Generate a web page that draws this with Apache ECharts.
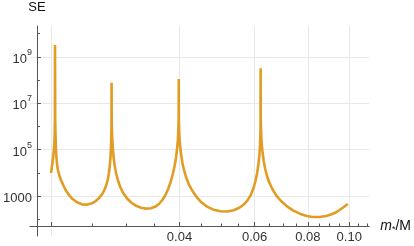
<!DOCTYPE html>
<html>
<head>
<meta charset="utf-8">
<script src="https://cdn.jsdelivr.net/npm/echarts@6/dist/echarts.min.js"></script>
<style>
html,body{margin:0;padding:0;background:#fff;}
#chart{width:414px;height:246px;}
</style>
</head>
<body>
<div id="chart"></div>
<script>
// m*/M values
const massRatio = [
  // rise to first peak
  0.020000, 0.020075, 0.020161, 0.020237, 0.020302, 0.020357, 0.020400, 0.020422, 0.020433,
  // first valley
  0.020455, 0.020488, 0.020532, 0.020587, 0.020653, 0.020753, 0.020898, 0.021100, 0.021351, 0.021638,
  0.021989, 0.022465, 0.023013, 0.023701, 0.024344, 0.024872, 0.025410, 0.025891, 0.026310, 0.026665,
  0.026952, 0.027169, 0.027345, 0.027477, 0.027580, 0.027654, 0.027699, 0.027714, 0.027728,
  // second valley
  0.027743, 0.027803, 0.027892, 0.028012, 0.028177, 0.028405, 0.028695, 0.029051, 0.029522, 0.030161,
  0.030814, 0.031650, 0.032509, 0.033392, 0.034298, 0.035041, 0.035800, 0.036477, 0.037068, 0.037628,
  0.038135, 0.038587, 0.038961, 0.039255, 0.039487, 0.039656, 0.039762, 0.039826, 0.039848,
  // third valley
  0.039869, 0.039933, 0.040040, 0.040191, 0.040385, 0.040645, 0.040995, 0.041436, 0.042040, 0.042836,
  0.043880, 0.045071, 0.046543, 0.048064, 0.049899, 0.051808, 0.053584, 0.055247, 0.056594, 0.057758,
  0.058756, 0.059612, 0.060287, 0.060838, 0.061263, 0.061591, 0.061790, 0.061923, 0.061956, 0.061988,
  // last valley
  0.062023, 0.062155, 0.062356, 0.062657, 0.063027, 0.063500, 0.064117, 0.064877, 0.065928, 0.067355,
  0.069183, 0.071442, 0.074172, 0.076594, 0.079520, 0.082248, 0.085256, 0.088369, 0.090914, 0.092883,
  0.094894, 0.096949, 0.099208
];
// SE values
const seValues = [
  9.80e3, 1.61e4, 2.92e4, 5.30e4, 9.61e4, 1.93e5, 4.70e5, 1.89e6, 3.23e9,
  1.89e6, 4.26e5, 1.17e5, 4.80e4, 2.40e4, 1.32e4, 8.04e3, 4.89e3, 2.98e3, 1.81e3,
  1.16e3, 742, 535, 430, 426, 475, 591, 796, 1.16e3, 1.81e3,
  2.98e3, 5.14e3, 1.03e4, 2.17e4, 5.30e4, 1.58e5, 5.74e5, 1.89e6, 7.66e7,
  1.89e6, 4.26e5, 1.43e5, 5.30e4, 2.17e4, 9.80e3, 4.66e3, 2.44e3, 1.35e3, 780,
  525, 378, 313, 286, 295, 342, 452, 672, 1.10e3, 2.00e3,
  4.01e3, 8.88e3, 1.96e4, 4.34e4, 1.06e5, 2.59e5, 7.00e5, 1.89e6, 1.10e8,
  1.89e6, 7.00e5, 2.59e5, 1.17e5, 5.85e4, 2.65e4, 1.32e4, 6.59e3, 3.29e3, 1.73e3,
  906, 525, 342, 257, 219, 215, 244, 310, 430, 653,
  1.10e3, 2.10e3, 4.43e3, 9.80e3, 2.40e4, 5.85e4, 1.58e5, 5.19e5, 1.89e6, 3.19e8,
  1.89e6, 5.19e5, 1.74e5, 7.14e4, 3.23e4, 1.53e4, 7.65e3, 4.01e3, 2.10e3, 1.10e3,
  609, 360, 230, 173, 137, 124, 124, 137, 163, 194,
  249, 329, 452
];
// tick values
const xMajorTicks = [0.02, 0.04, 0.06, 0.08, 0.10];
const xLabelTicks = [0.04, 0.06, 0.08, 0.10];
const xMinorTicks = [0.025, 0.03, 0.035, 0.045, 0.05, 0.055, 0.065, 0.07, 0.075, 0.085, 0.09, 0.095, 0.105, 0.11];
const yLabelTicks = [1e3, 1e5, 1e7, 1e9];
const yMinorTicks = [1e2, 1e4, 1e6, 1e8, 1e10];

const xMin = 0.017844, xMax = 0.111432;
const yMin = 18.9, yMax = 2.13e10;

const AXIS_COLOR = '#555555';
const TEXT_COLOR = '#333333';
const FONT = '"Liberation Sans", Arial, sans-serif';
const GRID_COLOR = '#e8e8e8';

const chart = echarts.init(document.getElementById('chart'), null, {renderer: 'canvas'});

const seriesData = massRatio.map((x, i) => [x, seValues[i]]);

function yLabelFmt(v) {
  const e = Math.round(Math.log10(v));
  if (e === 3) return '{b|1000}';
  return '{b|10}{s|' + e + '}';
}

const option = {
  animation: false,
  backgroundColor: '#ffffff',
  grid: {left: 28, right: 44, top: 26, bottom: 10, containLabel: false},
  xAxis: [
    {
      type: 'log', logBase: 10, min: xMin, max: xMax, position: 'bottom', offset: -10,
      name: '{i|m}{s|*}{n|/M}', nameLocation: 'end', nameGap: 11,
      nameTextStyle: {
        rich: {
          i: {fontFamily: FONT, fontSize: 14, fontStyle: 'italic', color: '#111', lineHeight: 16, verticalAlign: 'middle'},
          s: {fontFamily: FONT, fontSize: 9, color: '#111', lineHeight: 16, verticalAlign: 'bottom', padding: [6, 0, 0, 0]},
          n: {fontFamily: FONT, fontSize: 14, color: '#111', lineHeight: 16, verticalAlign: 'middle'}
        }
      },
      axisLine: {show: true, lineStyle: {color: AXIS_COLOR, width: 1}},
      axisTick: {show: true, inside: true, length: 4, customValues: xMajorTicks, lineStyle: {color: AXIS_COLOR}},
      axisLabel: {
        show: true, customValues: xLabelTicks, margin: 5,
        fontFamily: FONT, fontSize: 13, color: TEXT_COLOR,
        formatter: v => Number(v).toFixed(2)
      },
      splitLine: {show: true, lineStyle: {color: GRID_COLOR, width: 1}},
      minorTick: {show: false}
    },
    {
      type: 'log', logBase: 10, min: xMin, max: xMax, position: 'bottom', offset: -10,
      axisLine: {show: false},
      axisTick: {show: true, inside: true, length: 2.5, customValues: xMinorTicks, lineStyle: {color: AXIS_COLOR}},
      axisLabel: {show: false},
      splitLine: {show: false}
    }
  ],
  yAxis: [
    {
      type: 'log', logBase: 10, min: yMin, max: yMax, position: 'left', offset: -7,
      name: 'SE', nameLocation: 'end', nameGap: 12,
      nameTextStyle: {fontFamily: FONT, fontSize: 13, color: '#111', align: 'center'},
      axisLine: {show: true, lineStyle: {color: AXIS_COLOR, width: 1}},
      axisTick: {show: true, inside: true, length: 4, customValues: yLabelTicks, lineStyle: {color: AXIS_COLOR}},
      axisLabel: {
        show: true, customValues: yLabelTicks, margin: 5,
        formatter: yLabelFmt,
        rich: {
          b: {fontFamily: FONT, fontSize: 13, color: TEXT_COLOR, lineHeight: 18, verticalAlign: 'bottom'},
          s: {fontFamily: FONT, fontSize: 9, color: TEXT_COLOR, lineHeight: 8, verticalAlign: 'top'}
        }
      },
      splitLine: {show: true, lineStyle: {color: GRID_COLOR, width: 1}}
    },
    {
      type: 'log', logBase: 10, min: yMin, max: yMax, position: 'left', offset: -7,
      axisLine: {show: false},
      axisTick: {show: true, inside: true, length: 3, customValues: yMinorTicks, lineStyle: {color: AXIS_COLOR}},
      axisLabel: {show: false},
      splitLine: {show: false}
    }
  ],
  series: [
    {
      type: 'line', xAxisIndex: 0, yAxisIndex: 0,
      data: seriesData, showSymbol: false, symbol: 'none', smooth: false,
      lineStyle: {color: '#E19C24', width: 2.6},
      clip: true
    }
  ]
};
chart.setOption(option);
</script>
</body>
</html>
